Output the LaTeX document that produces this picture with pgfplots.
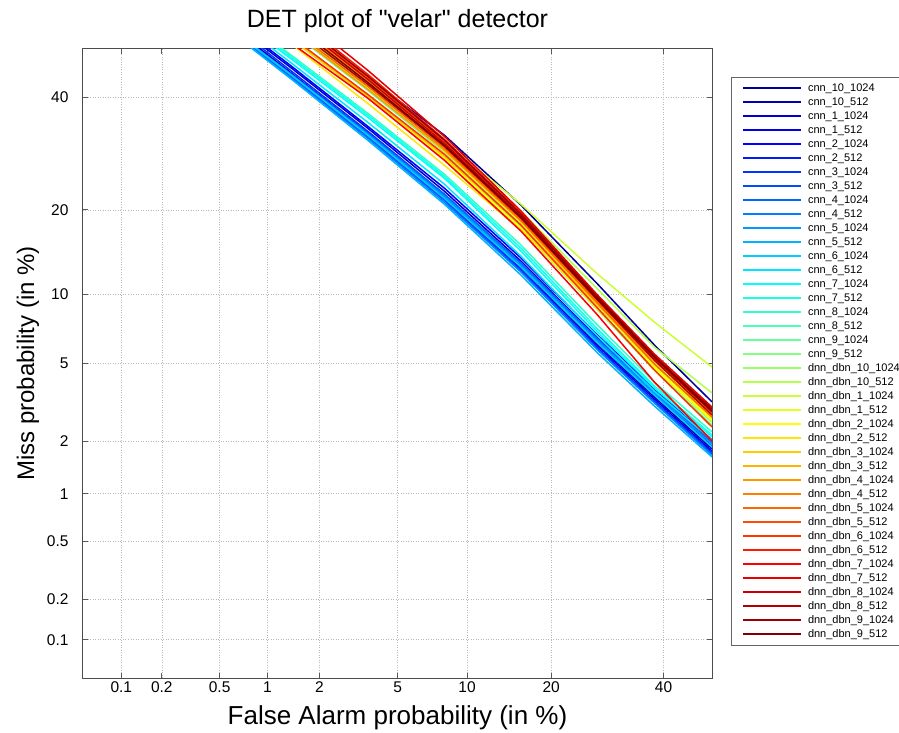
\documentclass[border=0pt]{standalone}
\usepackage{pgfplots}
\usepackage{pgfplotstable}
\pgfplotsset{compat=1.18}
\usepackage{fontspec}
\setmainfont{Liberation Sans}[Ligatures=TeXOff]
% MATLAB jet(40)
\definecolor{j1}{rgb}{0,0,0.6}\definecolor{j2}{rgb}{0,0,0.7}\definecolor{j3}{rgb}{0,0,0.8}\definecolor{j4}{rgb}{0,0,0.9}
\definecolor{j5}{rgb}{0,0,1}\definecolor{j6}{rgb}{0,0.1,1}\definecolor{j7}{rgb}{0,0.2,1}\definecolor{j8}{rgb}{0,0.3,1}
\definecolor{j9}{rgb}{0,0.4,1}\definecolor{j10}{rgb}{0,0.5,1}\definecolor{j11}{rgb}{0,0.6,1}\definecolor{j12}{rgb}{0,0.7,1}
\definecolor{j13}{rgb}{0,0.8,1}\definecolor{j14}{rgb}{0,0.9,1}\definecolor{j15}{rgb}{0,1,1}\definecolor{j16}{rgb}{0.1,1,0.9}
\definecolor{j17}{rgb}{0.2,1,0.8}\definecolor{j18}{rgb}{0.3,1,0.7}\definecolor{j19}{rgb}{0.4,1,0.6}\definecolor{j20}{rgb}{0.5,1,0.5}
\definecolor{j21}{rgb}{0.6,1,0.4}\definecolor{j22}{rgb}{0.7,1,0.3}\definecolor{j23}{rgb}{0.8,1,0.2}\definecolor{j24}{rgb}{0.9,1,0.1}
\definecolor{j25}{rgb}{1,1,0}\definecolor{j26}{rgb}{1,0.9,0}\definecolor{j27}{rgb}{1,0.8,0}\definecolor{j28}{rgb}{1,0.7,0}
\definecolor{j29}{rgb}{1,0.6,0}\definecolor{j30}{rgb}{1,0.5,0}\definecolor{j31}{rgb}{1,0.4,0}\definecolor{j32}{rgb}{1,0.3,0}
\definecolor{j33}{rgb}{1,0.2,0}\definecolor{j34}{rgb}{1,0.1,0}\definecolor{j35}{rgb}{1,0,0}\definecolor{j36}{rgb}{0.9,0,0}
\definecolor{j37}{rgb}{0.8,0,0}\definecolor{j38}{rgb}{0.7,0,0}\definecolor{j39}{rgb}{0.6,0,0}\definecolor{j40}{rgb}{0.5,0,0}
% DET curves: x = probit(false alarm), cK = probit(miss) of series K
\pgfplotstableread{
x c1 c2 c3 c4 c5 c6 c7 c8 c9 c10 c11 c12 c13 c14 c15 c16 c17 c18 c19 c20 c21 c22 c23 c24 c25 c26 c27 c28 c29 c30 c31 c32 c33 c34 c35 c36 c37 c38 c39 c40
-2.6 0.435 0.184 0.205 0.174 0.216 0.164 0.195 0.158 0.169 0.153 0.164 0.153 0.169 0.231 0.247 0.258 0.268 0.362 0.388 0.352 0.414 0.441 0.477 0.404 0.362 0.331 0.341 0.425 0.383 0.446 0.393 0.467 0.352 0.488 0.310 0.519 0.456 0.414 0.477 0.435
-2.2 0.140 -0.127 -0.100 -0.132 -0.090 -0.142 -0.116 -0.148 -0.132 -0.153 -0.137 -0.158 -0.137 -0.074 -0.053 -0.043 -0.033 0.062 0.088 0.051 0.114 0.140 0.166 0.103 0.062 0.025 0.051 0.130 0.093 0.145 0.103 0.166 0.062 0.182 0.030 0.208 0.156 0.119 0.171 0.135
-1.8 -0.149 -0.441 -0.415 -0.447 -0.405 -0.457 -0.431 -0.462 -0.441 -0.468 -0.447 -0.478 -0.452 -0.384 -0.358 -0.347 -0.337 -0.243 -0.217 -0.253 -0.196 -0.170 -0.154 -0.206 -0.248 -0.285 -0.248 -0.180 -0.211 -0.164 -0.196 -0.149 -0.238 -0.133 -0.258 -0.112 -0.159 -0.185 -0.143 -0.175
-1.4 -0.451 -0.770 -0.744 -0.781 -0.728 -0.786 -0.760 -0.791 -0.760 -0.802 -0.770 -0.812 -0.781 -0.707 -0.676 -0.666 -0.655 -0.566 -0.540 -0.577 -0.524 -0.488 -0.488 -0.535 -0.572 -0.608 -0.561 -0.509 -0.530 -0.498 -0.519 -0.483 -0.551 -0.472 -0.582 -0.457 -0.493 -0.509 -0.477 -0.504
-1.0 -0.816 -1.135 -1.109 -1.145 -1.093 -1.156 -1.125 -1.161 -1.119 -1.166 -1.130 -1.182 -1.140 -1.083 -1.057 -1.041 -1.025 -0.931 -0.910 -0.942 -0.889 -0.847 -0.811 -0.910 -0.936 -0.947 -0.921 -0.889 -0.900 -0.879 -0.894 -0.868 -0.921 -0.858 -0.952 -0.847 -0.874 -0.884 -0.863 -0.879
-0.6 -1.228 -1.542 -1.511 -1.552 -1.495 -1.563 -1.526 -1.568 -1.516 -1.573 -1.526 -1.589 -1.537 -1.500 -1.479 -1.464 -1.443 -1.354 -1.328 -1.364 -1.317 -1.254 -1.176 -1.338 -1.359 -1.333 -1.338 -1.317 -1.328 -1.317 -1.328 -1.301 -1.354 -1.291 -1.390 -1.286 -1.307 -1.312 -1.296 -1.307
-0.3 -1.550 -1.822 -1.796 -1.832 -1.780 -1.843 -1.806 -1.848 -1.791 -1.853 -1.801 -1.869 -1.812 -1.791 -1.775 -1.764 -1.744 -1.670 -1.649 -1.681 -1.634 -1.561 -1.430 -1.660 -1.670 -1.629 -1.649 -1.629 -1.634 -1.623 -1.649 -1.618 -1.681 -1.608 -1.744 -1.597 -1.618 -1.629 -1.608 -1.613
0.0 -1.846 -2.092 -2.061 -2.103 -2.045 -2.113 -2.077 -2.118 -2.056 -2.124 -2.066 -2.134 -2.082 -2.045 -2.029 -2.019 -2.003 -1.951 -1.935 -1.967 -1.914 -1.799 -1.664 -1.935 -1.946 -1.925 -1.925 -1.904 -1.899 -1.883 -1.925 -1.894 -1.977 -1.888 -2.050 -1.873 -1.899 -1.914 -1.883 -1.894
}\detdata
\begin{document}
\begin{tikzpicture}
\useasboundingbox (-83pt,-54pt) rectangle (816pt,678pt);
\begin{axis}[
  at={(0pt,0pt)}, anchor=south west,
  scale only axis, width=629pt, height=629pt,
  xmin=-3.2905, xmax=0, ymin=-3.2905, ymax=0,
  xtick={-3.0902,-2.8782,-2.5758,-2.3263,-2.0537,-1.6449,-1.2816,-0.8416,-0.2533},
  xticklabels={0.1,0.2,0.5,1,2,5,10,20,40},
  ytick={-3.0902,-2.8782,-2.5758,-2.3263,-2.0537,-1.6449,-1.2816,-0.8416,-0.2533},
  yticklabels={0.1,0.2,0.5,1,2,5,10,20,40},
  /pgf/number format/assume math mode=true,
  tick label style={font=\fontsize{15.5}{18}\selectfont},
  yticklabel style={xshift=-11pt},
  grid=major,
  major grid style={gray!55, line width=0.6pt, dash pattern=on 1pt off 1.5pt},
  tick align=inside, major tick length=5pt,
  tick style={black!65, line width=0.8pt},
  axis line style={black!70, line width=1pt},
  title={DET plot of "velar" detector},
  title style={at={(axis description cs:0.5,1.0345)}, anchor=center, font=\fontsize{25}{30}\selectfont},
  xlabel={False Alarm probability (in \%)},
  xlabel style={at={(axis description cs:0.5,-0.0636)}, anchor=center, font=\fontsize{26}{31}\selectfont},
  ylabel={Miss probability (in \%)},
  ylabel style={at={(axis description cs:-0.0874,0.5)}, anchor=center, font=\fontsize{24}{29}\selectfont},
  every axis plot/.append style={line width=1.5pt},
  no markers,
  legend cell align=left,
  legend image code/.code={\draw[#1, line width=2pt] (0pt,0pt) -- (58pt,0pt);},
  legend style={at={(axis description cs:1,1)}, anchor=north west, xshift=19pt, yshift=-28pt,
    draw=black!60, fill=white, outer sep=0pt,
    font=\fontsize{11}{13}\selectfont,
    inner xsep=11pt, inner ysep=6pt, row sep=4pt, column sep=6pt,
    nodes={inner sep=0pt, text height=8pt, text depth=2pt}},
]
\addplot[j1] table[x=x,y=c1]{\detdata};\addlegendentry{cnn\_10\_1024}
\addplot[j2] table[x=x,y=c2]{\detdata};\addlegendentry{cnn\_10\_512}
\addplot[j3] table[x=x,y=c3]{\detdata};\addlegendentry{cnn\_1\_1024}
\addplot[j4] table[x=x,y=c4]{\detdata};\addlegendentry{cnn\_1\_512}
\addplot[j5] table[x=x,y=c5]{\detdata};\addlegendentry{cnn\_2\_1024}
\addplot[j6] table[x=x,y=c6]{\detdata};\addlegendentry{cnn\_2\_512}
\addplot[j7] table[x=x,y=c7]{\detdata};\addlegendentry{cnn\_3\_1024}
\addplot[j8] table[x=x,y=c8]{\detdata};\addlegendentry{cnn\_3\_512}
\addplot[j9] table[x=x,y=c9]{\detdata};\addlegendentry{cnn\_4\_1024}
\addplot[j10] table[x=x,y=c10]{\detdata};\addlegendentry{cnn\_4\_512}
\addplot[j11] table[x=x,y=c11]{\detdata};\addlegendentry{cnn\_5\_1024}
\addplot[j12] table[x=x,y=c12]{\detdata};\addlegendentry{cnn\_5\_512}
\addplot[j13] table[x=x,y=c13]{\detdata};\addlegendentry{cnn\_6\_1024}
\addplot[j14] table[x=x,y=c14]{\detdata};\addlegendentry{cnn\_6\_512}
\addplot[j15] table[x=x,y=c15]{\detdata};\addlegendentry{cnn\_7\_1024}
\addplot[j16] table[x=x,y=c16]{\detdata};\addlegendentry{cnn\_7\_512}
\addplot[j17] table[x=x,y=c17]{\detdata};\addlegendentry{cnn\_8\_1024}
\addplot[j18] table[x=x,y=c18]{\detdata};\addlegendentry{cnn\_8\_512}
\addplot[j19] table[x=x,y=c19]{\detdata};\addlegendentry{cnn\_9\_1024}
\addplot[j20] table[x=x,y=c20]{\detdata};\addlegendentry{cnn\_9\_512}
\addplot[j21] table[x=x,y=c21]{\detdata};\addlegendentry{dnn\_dbn\_10\_1024}
\addplot[j22] table[x=x,y=c22]{\detdata};\addlegendentry{dnn\_dbn\_10\_512}
\addplot[j23] table[x=x,y=c23]{\detdata};\addlegendentry{dnn\_dbn\_1\_1024}
\addplot[j24] table[x=x,y=c24]{\detdata};\addlegendentry{dnn\_dbn\_1\_512}
\addplot[j25] table[x=x,y=c25]{\detdata};\addlegendentry{dnn\_dbn\_2\_1024}
\addplot[j26] table[x=x,y=c26]{\detdata};\addlegendentry{dnn\_dbn\_2\_512}
\addplot[j27] table[x=x,y=c27]{\detdata};\addlegendentry{dnn\_dbn\_3\_1024}
\addplot[j28] table[x=x,y=c28]{\detdata};\addlegendentry{dnn\_dbn\_3\_512}
\addplot[j29] table[x=x,y=c29]{\detdata};\addlegendentry{dnn\_dbn\_4\_1024}
\addplot[j30] table[x=x,y=c30]{\detdata};\addlegendentry{dnn\_dbn\_4\_512}
\addplot[j31] table[x=x,y=c31]{\detdata};\addlegendentry{dnn\_dbn\_5\_1024}
\addplot[j32] table[x=x,y=c32]{\detdata};\addlegendentry{dnn\_dbn\_5\_512}
\addplot[j33] table[x=x,y=c33]{\detdata};\addlegendentry{dnn\_dbn\_6\_1024}
\addplot[j34] table[x=x,y=c34]{\detdata};\addlegendentry{dnn\_dbn\_6\_512}
\addplot[j35] table[x=x,y=c35]{\detdata};\addlegendentry{dnn\_dbn\_7\_1024}
\addplot[j36] table[x=x,y=c36]{\detdata};\addlegendentry{dnn\_dbn\_7\_512}
\addplot[j37] table[x=x,y=c37]{\detdata};\addlegendentry{dnn\_dbn\_8\_1024}
\addplot[j38] table[x=x,y=c38]{\detdata};\addlegendentry{dnn\_dbn\_8\_512}
\addplot[j39] table[x=x,y=c39]{\detdata};\addlegendentry{dnn\_dbn\_9\_1024}
\addplot[j40] table[x=x,y=c40]{\detdata};\addlegendentry{dnn\_dbn\_9\_512}
\end{axis}
\end{tikzpicture}
\end{document}
